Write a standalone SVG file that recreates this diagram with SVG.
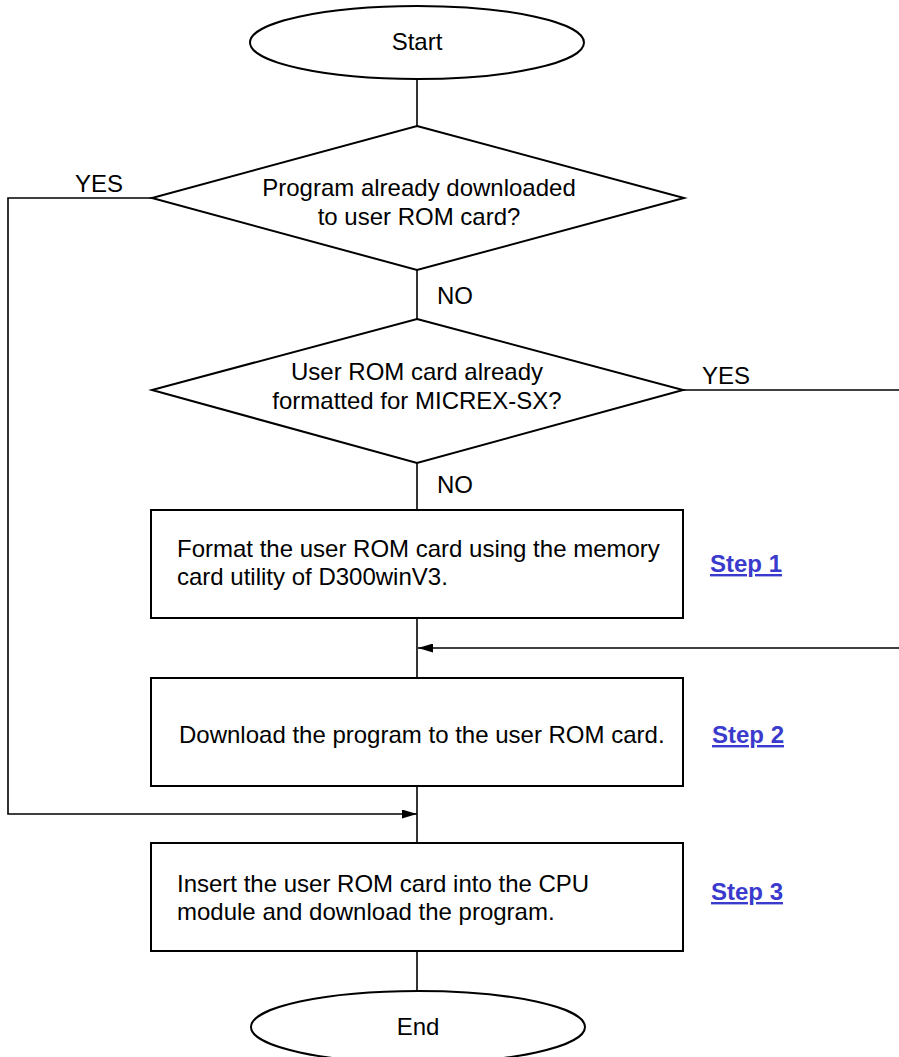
<svg xmlns="http://www.w3.org/2000/svg" width="899" height="1057" viewBox="0 0 899 1057">
<defs>
<style>
.shape{fill:#fff;stroke:#000;stroke-width:2}
.line{fill:none;stroke:#000;stroke-width:1.6}
text{font-family:"Liberation Sans",Arial,sans-serif;font-size:24px;fill:#000}
.c{text-anchor:middle}
.link{font-weight:bold;fill:#3a3acc;text-decoration:underline}
</style>
<marker id="arr" viewBox="0 0 15 9" refX="15" refY="4.5" markerWidth="15" markerHeight="9" markerUnits="userSpaceOnUse" orient="auto">
<path d="M0,0 L15,4.5 L0,9 Z" fill="#000"/>
</marker>
</defs>
<rect width="899" height="1057" fill="#fff"/>
<g id="connectors">
<line class="line" x1="417" y1="79" x2="417" y2="126"/>
<line class="line" x1="417" y1="270" x2="417" y2="319"/>
<line class="line" x1="417" y1="463" x2="417" y2="510"/>
<line class="line" x1="417" y1="618" x2="417" y2="678"/>
<line class="line" x1="417" y1="786" x2="417" y2="843"/>
<line class="line" x1="417" y1="951" x2="417" y2="991"/>
<polyline class="line" points="152,198 8,198 8,814 417,814" marker-end="url(#arr)"/>
<line class="line" x1="683" y1="390" x2="899" y2="390"/>
<line class="line" x1="899" y1="648" x2="418" y2="648" marker-end="url(#arr)"/>
<text x="75" y="192">YES</text>
<text x="702" y="384">YES</text>
<text x="437" y="304">NO</text>
<text x="437" y="493">NO</text>
</g>
<g id="start">
<ellipse class="shape" cx="417" cy="42.5" rx="167" ry="36.5"/>
<text class="c" x="417" y="50">Start</text>
</g>
<g id="decision1">
<polygon class="shape" points="417,126 684,198 417,270 152,198"/>
<text class="c" x="419" y="196">Program already downloaded</text>
<text class="c" x="419" y="225">to user ROM card?</text>
</g>
<g id="decision2">
<polygon class="shape" points="417,319 683,390 417,463 152,390"/>
<text class="c" x="417" y="380">User ROM card already</text>
<text class="c" x="417" y="409">formatted for MICREX-SX?</text>
</g>
<g id="step1">
<rect class="shape" x="151" y="510" width="532" height="108"/>
<text x="177" y="557">Format the user ROM card using the memory</text>
<text x="177" y="585">card utility of D300winV3.</text>
<text class="link" x="710" y="572">Step 1</text>
</g>
<g id="step2">
<rect class="shape" x="151" y="678" width="532" height="108"/>
<text x="179" y="743">Download the program to the user ROM card.</text>
<text class="link" x="712" y="743">Step 2</text>
</g>
<g id="step3">
<rect class="shape" x="151" y="843" width="532" height="108"/>
<text x="177" y="892">Insert the user ROM card into the CPU</text>
<text x="177" y="920">module and download the program.</text>
<text class="link" x="711" y="900">Step 3</text>
</g>
<g id="end">
<ellipse class="shape" cx="418" cy="1027" rx="167" ry="36"/>
<text class="c" x="418" y="1035">End</text>
</g>
</svg>
